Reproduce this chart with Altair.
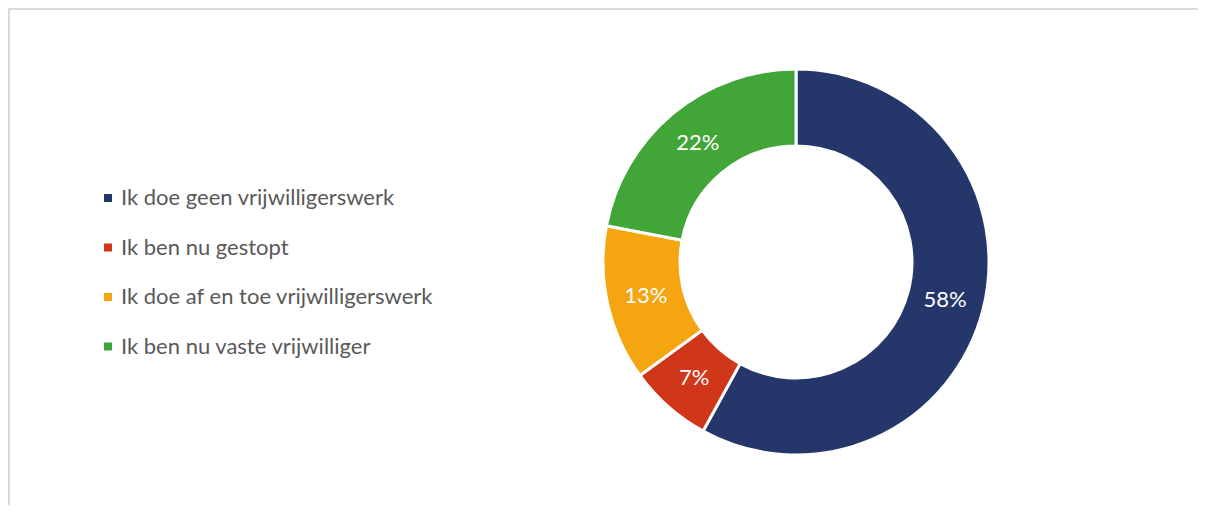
import altair as alt
import pandas as pd

categories = [
    "Ik doe geen vrijwilligerswerk",
    "Ik ben nu gestopt",
    "Ik doe af en toe vrijwilligerswerk",
    "Ik ben nu vaste vrijwilliger",
]
values = [58, 7, 13, 22]
labels = ["58%", "7%", "13%", "22%"]
colors = ["#25366B", "#D0361A", "#F5A50F", "#42A537"]

df = pd.DataFrame({
    "category": categories,
    "value": values,
    "label": labels,
    "order": list(range(len(categories))),
})

FONT = "Lato"

base = alt.Chart(df).encode(
    theta=alt.Theta("value:Q", stack=True),
    order=alt.Order("order:Q"),
    x=alt.value(788),
    y=alt.value(254),
)

arcs = base.mark_arc(outerRadius=193, innerRadius=116, stroke="white", strokeWidth=3).encode(
    color=alt.Color(
        "category:N",
        scale=alt.Scale(domain=categories, range=colors),
        legend=alt.Legend(
            title=None,
            orient="none",
            legendX=89,
            legendY=179,
            symbolType="square",
            symbolSize=64,
            symbolStrokeWidth=0,
            labelFont=FONT,
            labelFontSize=22,
            labelColor="#595959",
            labelOffset=2,
            rowPadding=27.5,
            labelLimit=600,
        ),
    )
)

text = base.mark_text(radius=154, font=FONT, fontSize=22, color="white").encode(
    text="label:N"
)

frame_df = pd.DataFrame({"a": [0]})
top_rule = alt.Chart(frame_df).mark_rule(color="#d9d9d9", strokeWidth=2).encode(
    x=alt.value(0), x2=alt.value(1190), y=alt.value(1)
)
left_rule = alt.Chart(frame_df).mark_rule(color="#d9d9d9", strokeWidth=2).encode(
    x=alt.value(1), y=alt.value(0), y2=alt.value(497)
)

chart = alt.layer(top_rule, left_rule, arcs, text).properties(
    width=1190,
    height=497,
    autosize=alt.AutoSizeParams(type="none"),
    padding=0,
).configure_view(stroke=None)

chart.save("out.html", embed_options={"renderer": "svg", "actions": False})
